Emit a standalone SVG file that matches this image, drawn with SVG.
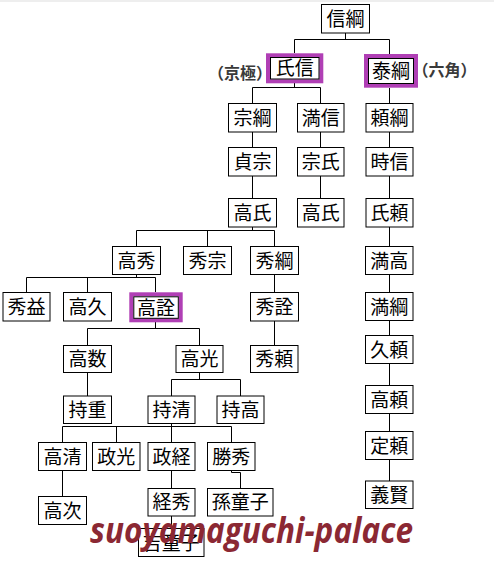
<svg xmlns="http://www.w3.org/2000/svg" width="494" height="572" viewBox="0 0 494 572">
<style>
.b{fill:#fff;stroke:#000;stroke-width:1}
.hl{fill:#fff;stroke:#b03fb5;stroke-width:4}
.t{font-family:"Noto Sans CJK JP","Noto Sans CJK SC",sans-serif;font-size:19px;fill:#000;text-anchor:middle}
.c{fill:none;stroke:#000;stroke-width:1}
.lab{font-family:"Noto Sans CJK JP",sans-serif;font-size:16px;font-weight:bold;fill:#3a3a3a;text-anchor:middle}
.wm{font-family:"Open Sans","DejaVu Sans",sans-serif;font-size:35px;font-weight:bold;font-style:italic;fill:#8b2833}
</style>
<rect x="0" y="0" width="494" height="572" fill="#fff"/>
<rect x="0" y="0" width="494" height="2" fill="#eeeeee"/>
<g id="connectors" class="c">
<path d="M345.5 33V39.5M294.5 39.5H389.5M294.5 39.5V53M389.5 39.5V54"/>
<path d="M294.5 83V87.5M252.5 87.5H320.5M252.5 87.5V103M320.5 87.5V103"/>
<path d="M389.5 88V103M389.5 132V147M389.5 176V198M389.5 227V246M389.5 274V292M389.5 320V335M389.5 363V385M389.5 413V431M389.5 459V481"/>
<path d="M252.5 132V147M252.5 176V198M320.5 132V147M320.5 176V198"/>
<path d="M252.5 227V230.5M136.5 230.5H274.5M136.5 230.5V246M207.5 230.5V246M274.5 230.5V246"/>
<path d="M136.5 274V277.5M26.5 277.5H155.5M26.5 277.5V292M87.5 277.5V292M155.5 277.5V292"/>
<path d="M274.5 274V292M274.5 321V345"/>
<path d="M155.5 322V328.5M87.5 328.5H199.5M87.5 328.5V345M199.5 328.5V345"/>
<path d="M87.5 372V396"/>
<path d="M199.5 372V379.5M171.5 379.5H240.5M171.5 379.5V396M240.5 379.5V396"/>
<path d="M171.5 423V426.5M62.5 426.5H231.5M62.5 426.5V442M116.5 426.5V442M171.5 426.5V442M231.5 426.5V442"/>
<path d="M62.5 470V496M171.5 470V488M231.5 470V472.5H240.5V488M171.5 516V528"/>
</g>
<g id="n_nobutsuna"><rect class="b" x="321.5" y="4.5" width="48" height="28.5"/><text class="t" x="345.5" y="25.7">信綱</text></g>
<g id="n_ujinobu"><rect class="hl" x="268" y="55.3" width="53.3" height="26"/><rect class="b" x="270.5" y="57.5" width="48.5" height="21.5"/><text class="t" x="294.7" y="75.3">氏信</text></g>
<g id="n_yasutsuna"><rect class="hl" x="366" y="56" width="50" height="29.7"/><rect class="b" x="368.5" y="58.5" width="45" height="25"/><text class="t" x="391" y="78.2">泰綱</text></g>
<g id="n_munetsuna"><rect class="b" x="228.5" y="103.5" width="48" height="28.5"/><text class="t" x="252.5" y="124.9">宗綱</text></g>
<g id="n_mitsunobu"><rect class="b" x="297.5" y="103.5" width="46.5" height="28.5"/><text class="t" x="320.7" y="124.9">満信</text></g>
<g id="n_yoritsuna"><rect class="b" x="366" y="103.5" width="47" height="28.5"/><text class="t" x="389.5" y="124.9">頼綱</text></g>
<g id="n_sadamune"><rect class="b" x="228.5" y="147.5" width="48" height="28.5"/><text class="t" x="252.5" y="168.9">貞宗</text></g>
<g id="n_muneuji"><rect class="b" x="297.5" y="147.5" width="46.5" height="28.5"/><text class="t" x="320.7" y="168.9">宗氏</text></g>
<g id="n_tokinobu"><rect class="b" x="366" y="147.5" width="47" height="28.5"/><text class="t" x="389.5" y="168.9">時信</text></g>
<g id="n_takauji"><rect class="b" x="228.5" y="198.5" width="48" height="28.5"/><text class="t" x="252.5" y="219.9">高氏</text></g>
<g id="n_takauji2"><rect class="b" x="297.5" y="198.5" width="46.5" height="28.5"/><text class="t" x="320.7" y="219.9">高氏</text></g>
<g id="n_ujiyori"><rect class="b" x="366" y="198.5" width="47" height="28.5"/><text class="t" x="389.5" y="219.9">氏頼</text></g>
<g id="n_mitsutaka"><rect class="b" x="365.5" y="246.5" width="47.5" height="28"/><text class="t" x="389.3" y="267.6">満高</text></g>
<g id="n_mitsutsuna"><rect class="b" x="365.5" y="292.5" width="47.5" height="28"/><text class="t" x="389.3" y="313.6">満綱</text></g>
<g id="n_hisayori"><rect class="b" x="365.5" y="335.5" width="47.5" height="28"/><text class="t" x="389.3" y="356.6">久頼</text></g>
<g id="n_takayori"><rect class="b" x="365.5" y="385.5" width="47.5" height="28"/><text class="t" x="389.3" y="406.6">高頼</text></g>
<g id="n_sadayori"><rect class="b" x="365.5" y="431.5" width="47.5" height="28"/><text class="t" x="389.3" y="452.6">定頼</text></g>
<g id="n_yoshikata"><rect class="b" x="365.5" y="481" width="47.5" height="27.5"/><text class="t" x="389.3" y="501.9">義賢</text></g>
<g id="n_takahide"><rect class="b" x="112.5" y="246.5" width="48" height="28"/><text class="t" x="136.5" y="267.6">高秀</text></g>
<g id="n_hidemune"><rect class="b" x="183.5" y="246.5" width="48" height="28"/><text class="t" x="207.5" y="267.6">秀宗</text></g>
<g id="n_hidetsuna"><rect class="b" x="250.5" y="246.5" width="48" height="28"/><text class="t" x="274.5" y="267.6">秀綱</text></g>
<g id="n_hidemasu"><rect class="b" x="3" y="292.5" width="47" height="28.5"/><text class="t" x="26.5" y="313.9">秀益</text></g>
<g id="n_takahisa"><rect class="b" x="63.5" y="292.5" width="48" height="28.5"/><text class="t" x="87.5" y="313.9">高久</text></g>
<g id="n_takanori"><rect class="hl" x="131.3" y="294.3" width="49.4" height="26"/><rect class="b" x="133.8" y="296.8" width="44.5" height="21.5"/><text class="t" x="156" y="314.6">高詮</text></g>
<g id="n_hidenori"><rect class="b" x="250.5" y="292.5" width="48" height="28.5"/><text class="t" x="274.5" y="313.9">秀詮</text></g>
<g id="n_takakazu"><rect class="b" x="63.5" y="345.5" width="48" height="27"/><text class="t" x="87.5" y="366.1">高数</text></g>
<g id="n_takamitsu"><rect class="b" x="176" y="345.5" width="47" height="27"/><text class="t" x="199.5" y="366.1">高光</text></g>
<g id="n_hideyori"><rect class="b" x="250.5" y="345.5" width="47.5" height="27"/><text class="t" x="274.3" y="366.1">秀頼</text></g>
<g id="n_mochishige"><rect class="b" x="63.5" y="396" width="48" height="27.5"/><text class="t" x="87.5" y="416.9">持重</text></g>
<g id="n_mochikiyo"><rect class="b" x="148" y="396" width="47" height="27.5"/><text class="t" x="171.5" y="416.9">持清</text></g>
<g id="n_mochitaka"><rect class="b" x="217" y="396" width="47" height="27.5"/><text class="t" x="240.5" y="416.9">持高</text></g>
<g id="n_takakiyo"><rect class="b" x="38.5" y="442.5" width="48" height="28"/><text class="t" x="62.5" y="463.6">高清</text></g>
<g id="n_masamitsu"><rect class="b" x="92.5" y="442.5" width="47.5" height="28"/><text class="t" x="116.3" y="463.6">政光</text></g>
<g id="n_masatsune"><rect class="b" x="148" y="442.5" width="47" height="28"/><text class="t" x="171.5" y="463.6">政経</text></g>
<g id="n_katsuhide"><rect class="b" x="207.5" y="442.5" width="47.5" height="28"/><text class="t" x="231.3" y="463.6">勝秀</text></g>
<g id="n_takatsugu"><rect class="b" x="38.5" y="496.5" width="48" height="28"/><text class="t" x="62.5" y="517.6">高次</text></g>
<g id="n_tsunehide"><rect class="b" x="148" y="488.5" width="47" height="27.5"/><text class="t" x="171.5" y="509.4">経秀</text></g>
<g id="n_magodoji"><rect class="b" x="207.5" y="488.5" width="65.5" height="27.5"/><text class="t" x="240.3" y="509.4">孫童子</text></g>
<g id="n_kichidoji"><rect class="b" x="138.5" y="528.5" width="65.5" height="28"/><text class="t" x="171.3" y="549.6">吉童子</text></g>
<g id="labels">
<text class="lab" x="240" y="79.3">（京極）</text>
<text class="lab" x="444.5" y="76">（六角）</text>
</g>
<text class="wm" x="90" y="543" textLength="323" lengthAdjust="spacingAndGlyphs">suoyamaguchi-palace</text>
</svg>
